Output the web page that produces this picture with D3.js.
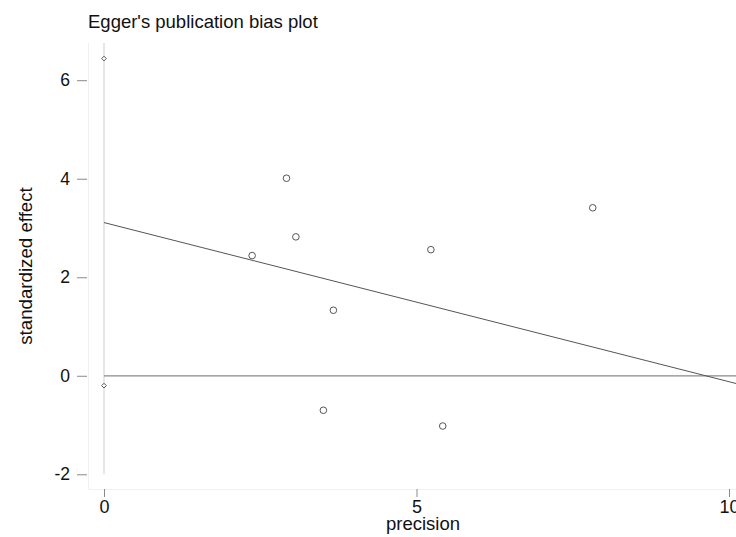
<!DOCTYPE html>
<html>
    <head>
        <title>Egger's publication bias plot</title>
        <meta charset="UTF-8">
        <script src="https://cdnjs.cloudflare.com/ajax/libs/d3/7.9.0/d3.min.js"></script>
        <style>
            html, body {
                margin: 0;
                padding: 0;
                background: #fff;
                font-family: "Liberation Sans", Arial, Helvetica, sans-serif;
            }
            .chart {
                width: 736px;
                height: 537px;
                overflow: hidden;
            }
        </style>
    </head>
    <body>
        <div class="chart"></div>
        <script>
            // study points (precision vs standardized effect)
            var precision = [2.92, 3.07, 2.37, 3.67, 3.51, 5.23, 5.42, 7.82];
            var stdEffect = [4.01, 2.82, 2.44, 1.33, -0.70, 2.56, -1.02, 3.41];
            // confidence bounds of the intercept, drawn at precision 0
            var ciBounds = [6.44, -0.20];
            // fitted regression line, two end points
            var fitX = [0, 10.2];
            var fitY = [3.11, -0.185];
            var xTicks = [0, 5, 10];
            var yTicks = [-2, 0, 2, 4, 6];

            var w = 736;
            var h = 537;

            var svg = d3.select(".chart").append("svg")
                    .attr("width", w)
                    .attr("height", h);

            var x = d3.scaleLinear()
                    .domain([0, 10])
                    .range([104, 729]);

            var y = d3.scaleLinear()
                    .domain([-2, 6])
                    .range([474.3, 80.2]);

            // faint plot region frame
            svg.append("path")
                .attr("fill", "none")
                .attr("stroke", "#f0f0f0")
                .attr("stroke-width", 1)
                .attr("d", "M88.5,43V489.5H" + w);

            // vertical reference at precision 0
            svg.append("line")
                .attr("x1", x(0)).attr("x2", x(0))
                .attr("y1", 43).attr("y2", y(-2))
                .attr("stroke", "#d6d6d6")
                .attr("stroke-width", 1.2);

            // zero line
            svg.append("line")
                .attr("x1", x(0)).attr("x2", w)
                .attr("y1", y(0)).attr("y2", y(0))
                .attr("stroke", "#8a8a8a")
                .attr("stroke-width", 1.3);

            // y axis
            var yAxis = svg.append("g")
                    .attr("transform", "translate(87,0)")
                    .call(d3.axisLeft(y).tickValues(yTicks).tickSize(10).tickPadding(7).tickFormat(d => d.toString()));
            yAxis.select(".domain").remove();
            yAxis.selectAll("line").attr("stroke", "#8a8a8a");
            yAxis.selectAll("text")
                .attr("fill", "#111")
                .style("font-size", "17.5px")
                .style("font-family", "Liberation Sans, Arial, sans-serif");

            // x axis
            var xAxis = svg.append("g")
                    .attr("transform", "translate(0,489)")
                    .call(d3.axisBottom(x).tickValues(xTicks).tickSize(8).tickPadding(3).tickFormat(d => d.toString()));
            xAxis.select(".domain").remove();
            xAxis.selectAll("line").attr("stroke", "#8a8a8a");
            xAxis.selectAll("text")
                .attr("fill", "#111")
                .style("font-size", "18px")
                .style("font-family", "Liberation Sans, Arial, sans-serif");

            // regression line
            var line = d3.line()
                    .x(d => x(d[0]))
                    .y(d => y(d[1]));
            svg.append("path")
                .datum(fitX.map((v, i) => [v, fitY[i]]))
                .attr("fill", "none")
                .attr("stroke", "#555")
                .attr("stroke-width", 1)
                .attr("d", line);

            // study circles
            svg.selectAll("circle.study")
                .data(precision)
                .enter().append("circle")
                .attr("class", "study")
                .attr("cx", d => x(d))
                .attr("cy", (d, i) => y(stdEffect[i]))
                .attr("r", 3.3)
                .attr("fill", "none")
                .attr("stroke", "#555")
                .attr("stroke-width", 1);

            // intercept bounds as diamonds
            svg.selectAll("path.ci")
                .data(ciBounds)
                .enter().append("path")
                .attr("class", "ci")
                .attr("transform", d => "translate(" + x(0) + "," + y(d) + ")")
                .attr("d", d3.symbol().type(d3.symbolDiamond2).size(14))
                .attr("fill", "#fff")
                .attr("stroke", "#555")
                .attr("stroke-width", 1);

            // title and axis labels
            svg.append("text")
                .attr("x", 88)
                .attr("y", 28)
                .attr("fill", "#111")
                .style("font-size", "18.5px")
                .text("Egger's publication bias plot");

            svg.append("text")
                .attr("transform", "translate(32,266) rotate(-90)")
                .attr("fill", "#111")
                .style("text-anchor", "middle")
                .style("font-size", "18.7px")
                .text("standardized effect");

            svg.append("text")
                .attr("x", 423)
                .attr("y", 530)
                .attr("fill", "#111")
                .style("text-anchor", "middle")
                .style("font-size", "18.5px")
                .text("precision");
        </script>
    </body>
</html>
